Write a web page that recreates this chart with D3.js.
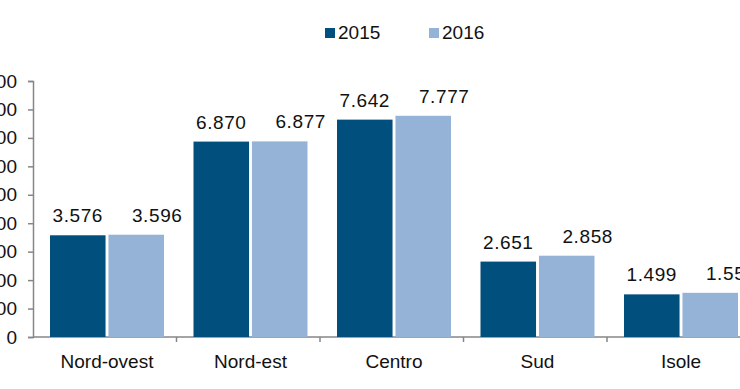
<!DOCTYPE html>
<html>
<head>
<meta charset="utf-8">
<script src="https://cdn.jsdelivr.net/npm/d3@7"></script>
<style>
  body { margin: 0; background: #fff; }
  svg { display: block; font-family: "Liberation Sans", Arial, sans-serif; }
</style>
</head>
<body>
<div id="chart"></div>
<script>
// data
const categories = ["Nord-ovest", "Nord-est", "Centro", "Sud", "Isole"];
const seriesNames = ["2015", "2016"];
const values2015 = [3576, 6870, 7642, 2651, 1499];
const values2016 = [3596, 6877, 7777, 2858, 1553];
const yTicks = [0, 1000, 2000, 3000, 4000, 5000, 6000, 7000, 8000, 9000];

const colors = { "2015": "#004f7c", "2016": "#95b3d7" };
// the 2016 labels sit a bit right of their bar in the original
const labelShift = { "2015": 0, "2016": 21 };

const width = 740, height = 389;
const axisX = 33, baseY = 337, topY = 81;
const catStep = 143.5;

// italian number format, dot as thousands sep
const it = d3.formatLocale({ decimal: ",", thousands: ".", grouping: [3], currency: ["", " €"] });
const fmt = it.format(",d");

const rows = categories.map((c, i) => ({ cat: c, vals: [values2015[i], values2016[i]] }));

const svg = d3.select("#chart").append("svg")
    .attr("width", width)
    .attr("height", height);

const x0 = d3.scaleBand()
    .domain(categories)
    .range([axisX, axisX + catStep * categories.length])
    .padding(0);

const x1 = d3.scaleBand()
    .domain(seriesNames)
    .range([17, 131])
    .paddingInner(0.05);

const y = d3.scaleLinear()
    .domain([0, 9000])
    .range([baseY, topY]);

// y axis
const yAxis = svg.append("g")
    .attr("transform", `translate(${axisX},0)`)
    .call(d3.axisLeft(y).tickValues(yTicks).tickSize(5).tickPadding(11).tickFormat(fmt));
yAxis.select(".domain").attr("stroke", "#868686").attr("stroke-width", 1.5);
yAxis.selectAll(".tick line").attr("stroke", "#868686").attr("stroke-width", 1.5);
yAxis.selectAll("text").attr("font-size", 19).attr("fill", "#111");

// x axis (ticks at category boundaries)
const xAxisG = svg.append("g").attr("transform", `translate(0,${baseY})`);
xAxisG.append("line")
    .attr("x1", axisX).attr("x2", width)
    .attr("stroke", "#868686").attr("stroke-width", 1.5);
xAxisG.selectAll(".cat-tick")
    .data(categories)
    .enter()
    .append("line")
    .attr("class", "cat-tick")
    .attr("x1", d => x0(d) + x0.bandwidth())
    .attr("x2", d => x0(d) + x0.bandwidth())
    .attr("y1", 0).attr("y2", 5)
    .attr("stroke", "#868686").attr("stroke-width", 1.5);
xAxisG.selectAll(".cat-label")
    .data(categories)
    .enter()
    .append("text")
    .attr("class", "cat-label")
    .attr("x", d => x0(d) + 17 + 57)
    .attr("y", 31)
    .attr("text-anchor", "middle")
    .attr("font-size", 19)
    .attr("fill", "#111")
    .text(d => d);

// bars
const groups = svg.selectAll(".grp")
    .data(rows)
    .enter()
    .append("g")
    .attr("class", "grp")
    .attr("transform", d => `translate(${x0(d.cat)},0)`);

groups.selectAll("rect")
    .data(d => seriesNames.map((s, i) => ({ s, v: d.vals[i] })))
    .enter()
    .append("rect")
    .attr("x", d => x1(d.s))
    .attr("y", d => y(d.v))
    .attr("width", x1.bandwidth())
    .attr("height", d => baseY - y(d.v))
    .attr("fill", d => colors[d.s]);

groups.selectAll(".val")
    .data(d => seriesNames.map((s, i) => ({ s, v: d.vals[i] })))
    .enter()
    .append("text")
    .attr("class", "val")
    .attr("x", d => x1(d.s) + x1.bandwidth() / 2 + labelShift[d.s])
    .attr("y", d => y(d.v) - 13)
    .attr("text-anchor", "middle")
    .attr("font-size", 19)
    .attr("letter-spacing", 0.6)
    .attr("fill", "#111")
    .text(d => fmt(d.v));

// legend
const legend = svg.append("g").attr("transform", "translate(325,28)");
const legX = [0, 104];
seriesNames.forEach((s, i) => {
    legend.append("rect")
        .attr("x", legX[i]).attr("y", 0)
        .attr("width", 10).attr("height", 10)
        .attr("fill", colors[s]);
    legend.append("text")
        .attr("x", legX[i] + 13).attr("y", 11)
        .attr("font-size", 19)
        .attr("fill", "#111")
        .text(s);
});
</script>
</body>
</html>
